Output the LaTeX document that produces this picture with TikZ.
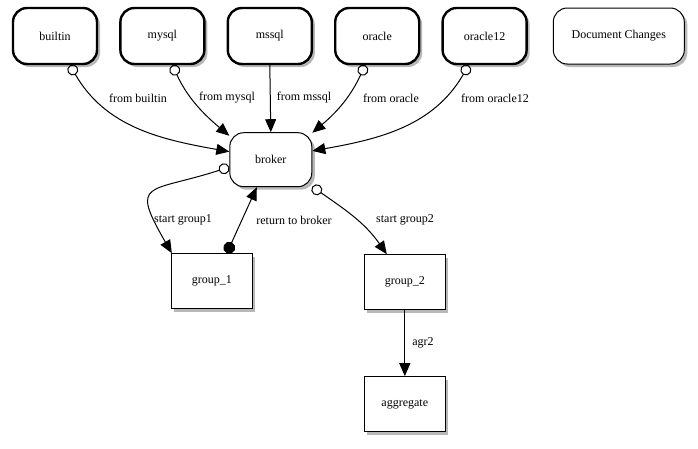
\documentclass[tikz,border=0pt]{standalone}
\usepackage{fontspec}
\setmainfont{Liberation Serif}
\newfontfamily\diagfont{Liberation Serif}
\usetikzlibrary{arrows.meta,positioning,shadows}

\begin{document}
\begin{tikzpicture}[
        node distance=21pt,
        every node/.style={font=\diagfont\fontsize{12}{14}\selectfont},
        srcbox/.style={rectangle, rounded corners=14pt, draw=black, line width=2.4pt, fill=white, minimum width=84pt, minimum height=56pt, inner sep=0pt,
            drop shadow={shadow xshift=3pt, shadow yshift=-3pt, fill=black!28, opacity=1}},
        notebox/.style={srcbox, line width=1pt, minimum width=131pt},
        hubbox/.style={srcbox, line width=1pt, minimum width=82pt, minimum height=54pt},
        grpbox/.style={rectangle, draw=black, line width=1pt, fill=white, minimum width=81pt, minimum height=55pt, inner sep=0pt,
            drop shadow={shadow xshift=3pt, shadow yshift=-3pt, fill=black!28, opacity=1}},
        lbl/.style={inner sep=0pt},
        arr/.style={line width=1pt, -{Triangle[length=13pt, width=11pt]}},
        ringarr/.style={arr, {Circle[open, length=11pt, width=11pt, line width=1pt]}-{Triangle[length=13pt, width=11pt]}},
        dotarr/.style={arr, {Circle[length=12pt, width=12pt]}-{Triangle[length=13pt, width=11pt]}},
    ]
        \useasboundingbox (0,0) rectangle (698pt,-448pt);

        % Sources
        \node[srcbox] (builtin) at (55pt,-36pt) {builtin};
        \node[srcbox, right=of builtin] (mysql) {mysql};
        \node[srcbox, right=of mysql] (mssql) {mssql};
        \node[srcbox, right=of mssql] (oracle) {oracle};
        \node[srcbox, right=of oracle] (oracle12) {oracle12};
        \node[notebox, right=25pt of oracle12] (changes) {Document Changes};

        % Broker and groups
        \node[hubbox, below=67pt of mssql, xshift=1pt] (broker) {broker};
        \node[grpbox, below=66pt of broker, xshift=-59pt] (group1) {group\_1};
        \node[grpbox, below=67pt of broker, xshift=134pt] (group2) {group\_2};
        \node[grpbox, below=66pt of group2] (aggregate) {aggregate};

        % Sources to broker
        \draw[ringarr] ([xshift=15pt]builtin.south) to[out=-60, in=170] (broker.169);
        \draw[ringarr] ([xshift=10pt]mysql.south) to[out=-65, in=140] (broker.150);
        \draw[arr] (mssql.south) -- (broker.north);
        \draw[ringarr] ([xshift=-12pt]oracle.south) to[out=-115, in=40] (broker.33);
        \draw[ringarr] ([xshift=-16pt]oracle12.south) to[out=-120, in=10] (broker.12);

        % Broker and groups
        \draw[ringarr] (broker.190) to[out=198, in=120, looseness=2.1] (group1.145);
        \draw[dotarr] ([xshift=15pt]group1.north) -- ([xshift=-14pt]broker.south);
        \draw[ringarr] (broker.-33) to[out=-35, in=125] ([xshift=-18pt]group2.north);
        \draw[arr] (group2.south) -- (aggregate.north);

        % Labels
        \node[lbl] (lbuiltin) at (138pt,-98pt) {from builtin};
        \node[lbl] (lmysql) at (227pt,-98pt) {from mysql};
        \node[lbl] (lmssql) at (304pt,-98pt) {from mssql};
        \node[lbl] (loracle) at (391pt,-98pt) {from oracle};
        \node[lbl] (loracle12) at (495pt,-98pt) {from oracle12};
        \node[lbl] (lstart1) at (183pt,-220pt) {start group1};
        \node[lbl] (lreturn) at (294pt,-220pt) {return to broker};
        \node[lbl] (lstart2) at (405pt,-220pt) {start group2};
        \node[lbl] (lagr) at (423pt,-343pt) {agr2};
    \end{tikzpicture}
\end{document}
